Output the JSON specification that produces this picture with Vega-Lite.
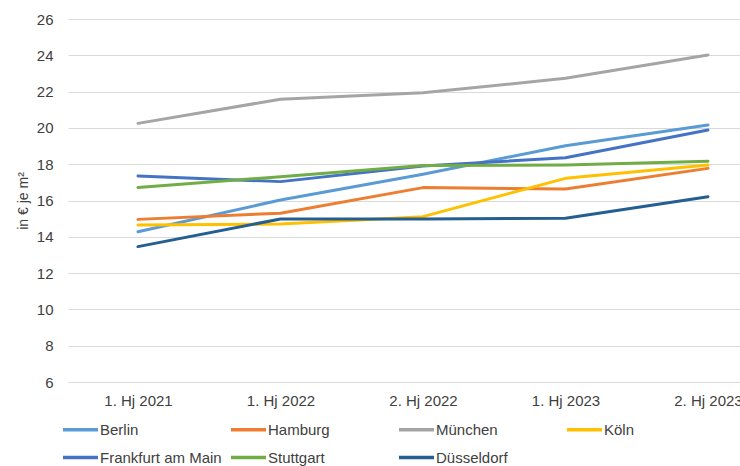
{
  "$schema": "https://vega.github.io/schema/vega-lite/v6.json",
  "autosize": "none",
  "width": 672,
  "height": 363,
  "padding": {"left": 68, "top": 19, "right": 0, "bottom": 84},
  "background": "white",
  "config": {
    "view": {"stroke": null},
    "font": "Liberation Sans"
  },
  "data": {
    "values": [
      {"stadt": "Berlin", "periode": "1. Hj 2021", "wert": 14.28},
      {"stadt": "Berlin", "periode": "1. Hj 2022", "wert": 16.03},
      {"stadt": "Berlin", "periode": "2. Hj 2022", "wert": 17.45},
      {"stadt": "Berlin", "periode": "1. Hj 2023", "wert": 19.02},
      {"stadt": "Berlin", "periode": "2. Hj 2023", "wert": 20.16},
      {"stadt": "Hamburg", "periode": "1. Hj 2021", "wert": 14.96},
      {"stadt": "Hamburg", "periode": "1. Hj 2022", "wert": 15.3},
      {"stadt": "Hamburg", "periode": "2. Hj 2022", "wert": 16.71},
      {"stadt": "Hamburg", "periode": "1. Hj 2023", "wert": 16.63},
      {"stadt": "Hamburg", "periode": "2. Hj 2023", "wert": 17.77},
      {"stadt": "München", "periode": "1. Hj 2021", "wert": 20.25},
      {"stadt": "München", "periode": "1. Hj 2022", "wert": 21.58},
      {"stadt": "München", "periode": "2. Hj 2022", "wert": 21.94},
      {"stadt": "München", "periode": "1. Hj 2023", "wert": 22.73},
      {"stadt": "München", "periode": "2. Hj 2023", "wert": 24.02},
      {"stadt": "Köln", "periode": "1. Hj 2021", "wert": 14.65},
      {"stadt": "Köln", "periode": "1. Hj 2022", "wert": 14.7},
      {"stadt": "Köln", "periode": "2. Hj 2022", "wert": 15.11},
      {"stadt": "Köln", "periode": "1. Hj 2023", "wert": 17.22},
      {"stadt": "Köln", "periode": "2. Hj 2023", "wert": 17.95},
      {"stadt": "Frankfurt am Main", "periode": "1. Hj 2021", "wert": 17.35},
      {"stadt": "Frankfurt am Main", "periode": "1. Hj 2022", "wert": 17.04},
      {"stadt": "Frankfurt am Main", "periode": "2. Hj 2022", "wert": 17.9},
      {"stadt": "Frankfurt am Main", "periode": "1. Hj 2023", "wert": 18.36},
      {"stadt": "Frankfurt am Main", "periode": "2. Hj 2023", "wert": 19.88},
      {"stadt": "Stuttgart", "periode": "1. Hj 2021", "wert": 16.71},
      {"stadt": "Stuttgart", "periode": "1. Hj 2022", "wert": 17.31},
      {"stadt": "Stuttgart", "periode": "2. Hj 2022", "wert": 17.93},
      {"stadt": "Stuttgart", "periode": "1. Hj 2023", "wert": 17.96},
      {"stadt": "Stuttgart", "periode": "2. Hj 2023", "wert": 18.16},
      {"stadt": "Düsseldorf", "periode": "1. Hj 2021", "wert": 13.46},
      {"stadt": "Düsseldorf", "periode": "1. Hj 2022", "wert": 14.98},
      {"stadt": "Düsseldorf", "periode": "2. Hj 2022", "wert": 14.98},
      {"stadt": "Düsseldorf", "periode": "1. Hj 2023", "wert": 15.02},
      {"stadt": "Düsseldorf", "periode": "2. Hj 2023", "wert": 16.21}
    ]
  },
  "mark": {"type": "line", "strokeWidth": 3, "strokeCap": "round", "strokeJoin": "round"},
  "encoding": {
    "x": {
      "field": "periode",
      "type": "ordinal",
      "sort": ["1. Hj 2021", "1. Hj 2022", "2. Hj 2022", "1. Hj 2023", "2. Hj 2023"],
      "scale": {"type": "point", "padding": 0.358, "align": 0.686},
      "axis": {
        "title": null,
        "domain": false,
        "ticks": false,
        "grid": false,
        "labelAngle": 0,
        "labelFontSize": 15,
        "labelColor": "#404040",
        "labelPadding": 11,
        "labelOverlap": false,
        "labelBound": false
      }
    },
    "y": {
      "field": "wert",
      "type": "quantitative",
      "scale": {"domain": [6, 26], "nice": false, "zero": false},
      "axis": {
        "title": "in € je m²",
        "titleFontSize": 14,
        "titleFontWeight": "normal",
        "titleColor": "#404040",
        "titlePadding": 6,
        "values": [6, 8, 10, 12, 14, 16, 18, 20, 22, 24, 26],
        "domain": false,
        "ticks": false,
        "grid": true,
        "gridColor": "#d9d9d9",
        "gridWidth": 1,
        "labelFontSize": 15,
        "labelColor": "#404040",
        "labelPadding": 15
      }
    },
    "color": {
      "field": "stadt",
      "type": "nominal",
      "sort": ["Berlin", "Hamburg", "München", "Köln", "Frankfurt am Main", "Stuttgart", "Düsseldorf"],
      "scale": {
        "domain": ["Berlin", "Hamburg", "München", "Köln", "Frankfurt am Main", "Stuttgart", "Düsseldorf"],
        "range": ["#5B9BD5", "#ED7D31", "#A5A5A5", "#FFC000", "#4472C4", "#70AD47", "#255E91"]
      },
      "legend": {
        "title": null,
        "orient": "none",
        "legendX": -7,
        "legendY": 391,
        "direction": "horizontal",
        "columns": 4,
        "gridAlign": "all",
        "symbolType": "stroke",
        "symbolSize": 1225,
        "symbolStrokeWidth": 3.5,
        "labelOffset": 0,
        "labelFontSize": 15,
        "labelColor": "#404040",
        "labelLimit": 200,
        "columnPadding": 2,
        "rowPadding": -12
      }
    }
  }
}
